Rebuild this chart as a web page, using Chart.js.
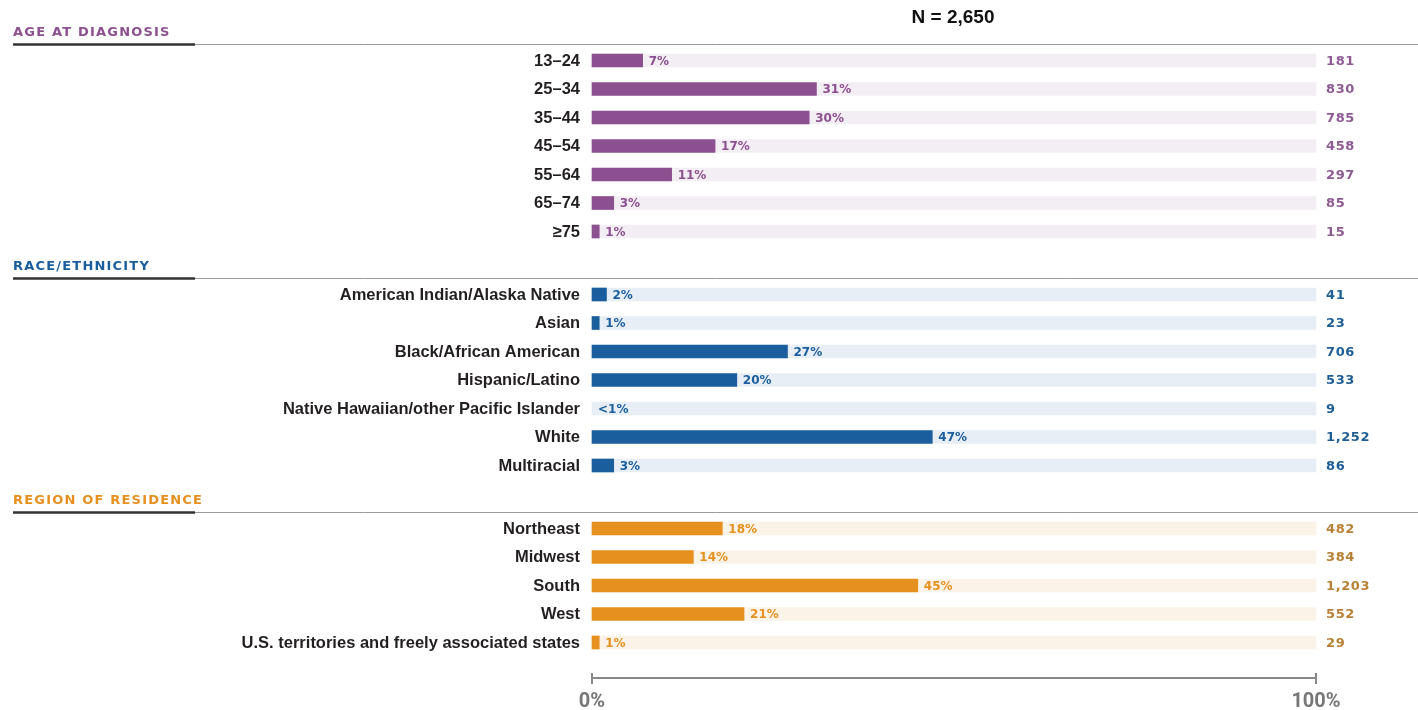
<!DOCTYPE html>
<html>
<head>
<meta charset="utf-8">
<script src="https://cdn.jsdelivr.net/npm/chart.js@4.4.1/dist/chart.umd.min.js"></script>
<style>
  html, body { margin: 0; padding: 0; background: #fff; }
  #wrap { width: 1418px; height: 710px; position: relative; }
</style>
</head>
<body>
<div id="wrap"><canvas id="chart"></canvas></div>
<script>
/* Diagnosed cases by age, race/ethnicity and region — horizontal bars on 0–100% tracks. */
const totalLabel = "N = 2,650";

const ageLabels = ["13–24", "25–34", "35–44", "45–54", "55–64", "65–74", "≥75"];
const agePct = [7, 31, 30, 17, 11, 3, 1];
const agePctText = ["7%", "31%", "30%", "17%", "11%", "3%", "1%"];
const ageCounts = ["181", "830", "785", "458", "297", "85", "15"];

const raceLabels = ["American Indian/Alaska Native", "Asian", "Black/African American",
  "Hispanic/Latino", "Native Hawaiian/other Pacific Islander", "White", "Multiracial"];
const racePct = [2, 1, 27, 20, 0, 47, 3];
const racePctText = ["2%", "1%", "27%", "20%", "<1%", "47%", "3%"];
const raceCounts = ["41", "23", "706", "533", "9", "1,252", "86"];

const regionLabels = ["Northeast", "Midwest", "South", "West",
  "U.S. territories and freely associated states"];
const regionPct = [18, 14, 45, 21, 1];
const regionPctText = ["18%", "14%", "45%", "21%", "1%"];
const regionCounts = ["482", "384", "1,203", "552", "29"];

const axisTicks = ["0%", "100%"];

// section layout (pixel rows on a 0..710 y scale)
const ROW = 28.5;
const sections = [
  { title: "AGE AT DIAGNOSIS", top: 60.5, labels: ageLabels, pct: agePct, text: agePctText, counts: ageCounts,
    bar: "#8c4f8f", track: "#f3eef4", num: "#8e5a93" },
  { title: "RACE/ETHNICITY", top: 294.5, labels: raceLabels, pct: racePct, text: racePctText, counts: raceCounts,
    bar: "#1b5e9e", track: "#e8eef5", num: "#1e5e96" },
  { title: "REGION OF RESIDENCE", top: 528.5, labels: regionLabels, pct: regionPct, text: regionPctText, counts: regionCounts,
    bar: "#e69020", track: "#fcf3e8", num: "#b98136" },
];

const trackData = [], trackColors = [], barData = [], barColors = [], rows = [];
sections.forEach(function (s) {
  s.labels.forEach(function (lab, i) {
    const y = s.top + i * ROW;
    trackData.push({ x: 100, y: y });
    trackColors.push(s.track);
    barData.push({ x: s.pct[i], y: y });
    barColors.push(s.pct[i] > 0 ? s.bar : "rgba(0,0,0,0)");
    rows.push({ label: lab, pct: s.pct[i], text: s.text[i], count: s.counts[i], y: y, color: s.bar, num: s.num });
  });
});

// x: 0 at px 592, 100 at px 1316
const PX = (1316 - 592) / 100;
const xMin = -592 / PX, xMax = (1418 - 592) / PX;
const HEAVY = "'DejaVu Sans', sans-serif";

const overlay = {
  id: "overlay",
  afterDatasetsDraw(chart) {
    const ctx = chart.ctx;
    const xs = chart.scales.x, ys = chart.scales.y;
    const x0 = xs.getPixelForValue(0), x100 = xs.getPixelForValue(100);
    ctx.save();

    // title
    ctx.fillStyle = "#111";
    ctx.font = "bold 19px 'Liberation Sans', Arial, sans-serif";
    ctx.textAlign = "center";
    ctx.textBaseline = "middle";
    ctx.fillText(totalLabel, 953, 18);

    // section headers
    sections.forEach(function (s) {
      const firstY = ys.getPixelForValue(s.top);
      const lineY = Math.round(firstY - 17);
      ctx.strokeStyle = "#9a9a9a";
      ctx.lineWidth = 1;
      ctx.beginPath();
      ctx.moveTo(13, lineY + 0.5);
      ctx.lineTo(1418, lineY + 0.5);
      ctx.stroke();
      ctx.strokeStyle = "#333";
      ctx.lineWidth = 2.5;
      ctx.beginPath();
      ctx.moveTo(13, lineY + 0.5);
      ctx.lineTo(195, lineY + 0.5);
      ctx.stroke();
      ctx.fillStyle = s.bar;
      ctx.font = "bold 13px " + HEAVY;
      ctx.letterSpacing = "1.2px";
      ctx.textAlign = "left";
      ctx.fillText(s.title, 13, Math.round(firstY - 28));
      ctx.letterSpacing = "0px";
    });

    // row labels, percent labels, counts
    rows.forEach(function (r) {
      const y = Math.round(ys.getPixelForValue(r.y));
      ctx.textBaseline = "middle";
      ctx.fillStyle = "#231f20";
      ctx.font = "bold 16.5px 'Liberation Sans', Arial, sans-serif";
      ctx.textAlign = "right";
      ctx.fillText(r.label, 580, y);

      ctx.fillStyle = r.color;
      ctx.font = "bold 12px " + HEAVY;
      ctx.textAlign = "left";
      ctx.fillText(r.text, xs.getPixelForValue(r.pct) + 6, y + 1);

      ctx.fillStyle = r.num;
      ctx.font = "bold 13px " + HEAVY;
      ctx.letterSpacing = "0.6px";
      ctx.fillText(r.count, 1326, y + 1);
      ctx.letterSpacing = "0px";
    });

    // bottom axis
    const ay = 678;
    ctx.strokeStyle = "#888";
    ctx.lineWidth = 2;
    ctx.beginPath();
    ctx.moveTo(x0, ay);
    ctx.lineTo(x100, ay);
    ctx.moveTo(x0, ay - 5);
    ctx.lineTo(x0, ay + 6);
    ctx.moveTo(x100, ay - 5);
    ctx.lineTo(x100, ay + 6);
    ctx.stroke();
    ctx.fillStyle = "#777";
    ctx.font = "bold 20px Roboto, sans-serif";
    ctx.textAlign = "center";
    ctx.fillText(axisTicks[0], x0, 702);
    ctx.fillText(axisTicks[1], x100, 702);
    ctx.restore();
  },
};

new Chart(document.getElementById("chart"), {
  type: "bar",
  data: {
    datasets: [
      { data: barData, backgroundColor: barColors, barThickness: 13, grouped: false, order: 1, borderWidth: 0 },
      { data: trackData, backgroundColor: trackColors, barThickness: 13, grouped: false, order: 2, borderWidth: 0 },
    ],
  },
  options: {
    indexAxis: "y",
    responsive: true,
    maintainAspectRatio: false,
    animation: false,
    layout: { padding: 0 },
    plugins: { legend: { display: false }, tooltip: { enabled: false } },
    scales: {
      x: { type: "linear", min: xMin, max: xMax, display: false },
      y: { type: "linear", min: 0, max: 710, reverse: true, offset: false, display: false },
    },
  },
  plugins: [overlay],
});
</script>
</body>
</html>
